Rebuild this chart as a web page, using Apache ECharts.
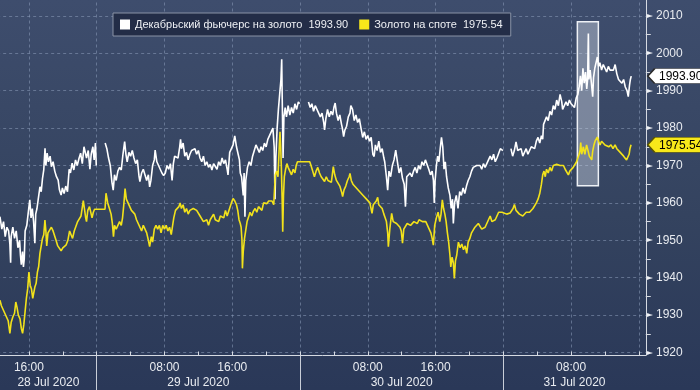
<!DOCTYPE html>
<html><head><meta charset="utf-8">
<script src="https://cdn.jsdelivr.net/npm/echarts@6/dist/echarts.min.js"></script>
<style>
html,body{margin:0;padding:0;background:#2e3c5c;}
#c{width:700px;height:390px;background:linear-gradient(180deg,#3e4d6d 0%,#34435f 55%,#2a3858 100%);}
</style>
</head><body><div id="c"></div>
<script>
// hours counted from 28 Jul 2020 00:00
const futuresName = 'Декабрьский фьючерс на золото';
const spotName = 'Золото на споте';

const futures = [
[12.58,1956.3],[12.8,1953.0],[13.0,1955.0],[13.2,1951.0],[13.4,1953.5],[13.6,1952.5],[13.75,1949.0],[13.84,1944.0],[13.9,1951.0],[14.1,1953.5],[14.3,1950.5],[14.5,1952.5],[14.7,1948.0],[14.9,1950.0],[15.0,1946.0],[15.1,1943.5],[15.25,1947.0],[15.35,1942.9],[15.45,1945.0],[15.55,1952.5],[15.75,1954.0],[15.9,1957.0],[16.1,1960.8],[16.25,1956.0],[16.4,1958.5],[16.55,1955.0],[16.7,1949.2],[16.8,1957.0],[16.95,1958.5],[17.1,1961.0],[17.3,1964.3],[17.45,1963.0],[17.6,1966.5],[17.75,1968.8],[17.9,1974.6],[18.0,1970.0],[18.15,1973.3],[18.3,1971.0],[18.5,1972.5],[18.65,1969.7],[18.85,1971.0],[19.05,1968.5],[19.25,1967.0],[19.45,1966.1],[19.6,1963.5],[19.8,1962.1],[19.95,1964.0],[20.15,1962.5],[20.35,1964.5],[20.55,1963.0],[20.75,1969.0],[20.9,1968.0],[21.1,1970.6],[21.3,1968.8],[21.5,1971.5],[21.7,1970.0],[21.9,1971.8],[22.1,1973.3],[22.3,1970.5],[22.5,1975.0],[22.65,1975.5],[22.8,1972.0],[23.0,1974.0],[23.2,1969.0],[23.35,1973.0],[23.55,1975.0],[23.7,1971.5],[23.85,1976.0],[23.95,1970.0],
[24.5,null],
[25.0,1976.0],[25.2,1974.5],[25.4,1972.0],[25.6,1970.0],[25.8,1965.5],[25.95,1963.4],[26.1,1967.5],[26.3,1966.0],[26.5,1968.5],[26.7,1969.5],[26.9,1968.8],[27.1,1973.0],[27.3,1976.4],[27.45,1973.0],[27.6,1971.0],[27.8,1973.5],[28.0,1972.5],[28.2,1974.0],[28.4,1972.0],[28.6,1970.5],[28.8,1971.5],[29.0,1967.0],[29.1,1965.7],[29.3,1968.0],[29.5,1969.0],[29.7,1968.5],[29.9,1966.0],[30.1,1967.5],[30.25,1964.3],[30.4,1966.0],[30.6,1970.0],[30.8,1971.5],[30.9,1974.1],[31.1,1971.0],[31.3,1970.0],[31.5,1969.5],[31.7,1968.0],[31.9,1967.3],[32.1,1968.0],[32.3,1970.0],[32.5,1969.0],[32.7,1970.5],[32.9,1966.0],[33.05,1970.5],[33.2,1972.5],[33.4,1973.0],[33.6,1972.0],[33.8,1975.0],[33.9,1977.0],[34.0,1974.5],[34.2,1976.0],[34.4,1972.5],[34.6,1973.5],[34.8,1971.5],[35.0,1973.0],[35.2,1974.0],[35.4,1973.5],[35.6,1974.5],[35.8,1973.0],[36.0,1974.0],[36.2,1972.0],[36.4,1971.0],[36.6,1972.5],[36.8,1970.0],[37.0,1971.0],[37.2,1969.5],[37.4,1970.3],[37.6,1968.8],[37.8,1970.5],
[38.0,1970.0],[38.2,1969.0],[38.4,1971.0],[38.6,1970.0],[38.8,1972.0],[39.0,1970.5],[39.2,1971.5],[39.4,1969.0],[39.5,1967.5],[39.7,1973.5],[39.9,1973.0],[40.1,1975.5],[40.3,1977.9],[40.5,1975.0],[40.7,1973.0],[40.85,1971.5],[40.95,1968.0],[41.1,1967.0],[41.3,1962.0],[41.4,1968.0],[41.5,1956.3],[41.6,1966.0],[41.8,1969.5],[42.0,1971.0],[42.2,1970.0],[42.4,1972.5],[42.6,1973.0],[42.8,1975.5],[43.0,1976.0],[43.2,1973.5],[43.4,1975.0],[43.6,1974.0],[43.8,1976.0],[44.0,1975.0],[44.2,1977.0],[44.4,1977.5],[44.6,1979.0],[44.8,1980.0],[44.95,1975.0],[45.05,1961.0],[45.15,1972.0],[45.3,1980.0],[45.45,1985.0],[45.6,1989.0],[45.75,1993.0],[45.84,1998.4],[45.9,1988.0],[46.0,1972.0],[46.1,1983.0],[46.25,1985.5],[46.4,1983.0],[46.6,1986.0],[46.8,1983.5],[47.0,1985.5],[47.2,1984.0],[47.4,1986.5],[47.6,1985.0],[47.8,1987.0],[47.95,1986.5],
[48.5,null],
[49.0,1987.0],[49.2,1985.5],[49.4,1986.5],[49.6,1984.5],[49.8,1986.0],[50.0,1985.0],[50.2,1984.5],[50.4,1983.0],[50.6,1984.0],[50.8,1981.5],[50.9,1979.5],[51.05,1982.5],[51.25,1985.0],[51.45,1983.0],[51.65,1984.5],[51.85,1983.5],[52.0,1985.5],[52.15,1986.7],[52.3,1984.0],[52.5,1982.0],[52.7,1983.5],[52.9,1981.0],[53.0,1980.0],[53.15,1977.7],[53.3,1979.5],[53.5,1980.5],[53.7,1983.0],[53.9,1984.0],[54.0,1986.0],[54.2,1985.0],[54.4,1982.0],[54.6,1983.5],[54.8,1981.5],[55.0,1982.5],[55.2,1980.0],[55.4,1977.5],[55.6,1979.0],[55.8,1977.0],[56.0,1978.0],[56.2,1976.5],[56.4,1977.5],[56.6,1973.0],[56.75,1972.4],[56.9,1975.5],[57.1,1974.0],[57.3,1976.5],[57.5,1973.5],[57.7,1974.5],[57.9,1972.0],[58.0,1971.0],[58.2,1967.0],[58.35,1963.4],[58.5,1968.5],[58.7,1967.0],[58.9,1970.0],[59.1,1971.5],[59.3,1974.1],[59.5,1971.0],[59.7,1968.0],[59.9,1969.5],[60.1,1966.5],[60.3,1965.0],[60.45,1959.0],[60.6,1967.0],[60.8,1966.5],[61.0,1968.0],[61.2,1967.0],[61.4,1968.5],[61.6,1969.5],[61.8,1968.0],[62.0,1970.0],[62.2,1969.0],[62.4,1971.0],[62.6,1970.0],[62.8,1971.5],
[63.0,1971.0],[63.2,1969.0],[63.4,1967.5],[63.6,1968.5],[63.75,1966.0],[63.85,1960.0],[63.95,1966.0],[64.1,1970.0],[64.25,1972.5],[64.4,1971.0],[64.55,1974.5],[64.7,1977.5],[64.85,1975.0],[65.0,1969.0],[65.15,1971.0],[65.3,1967.0],[65.5,1964.0],[65.7,1962.0],[65.85,1958.5],[66.0,1961.0],[66.1,1954.5],[66.25,1960.0],[66.45,1962.0],[66.65,1958.5],[66.85,1963.0],[67.05,1962.0],[67.25,1964.0],[67.45,1962.5],[67.65,1964.5],[67.85,1966.0],[68.05,1967.0],[68.25,1968.5],[68.45,1969.5],[68.65,1969.0],[68.85,1970.0],[69.05,1969.5],[69.25,1970.0],[69.45,1969.0],[69.65,1970.5],[69.85,1969.5],[70.05,1970.5],[70.25,1971.0],[70.45,1972.5],[70.65,1971.5],[70.85,1973.0],[71.05,1971.0],[71.25,1972.0],[71.45,1971.5],[71.65,1974.5],[71.85,1975.0],[71.95,1974.0],
[72.4,null],
[72.9,1974.5],[73.1,1972.5],[73.3,1974.0],[73.5,1976.3],[73.7,1974.0],[73.9,1973.5],[74.1,1974.5],[74.3,1972.5],[74.5,1973.5],[74.7,1974.5],[74.9,1973.0],[75.1,1974.0],
[75.3,1975.0],[75.5,1975.5],[75.7,1974.5],[75.9,1976.5],[76.1,1977.5],[76.3,1976.0],[76.5,1978.0],[76.65,1977.0],[76.75,1981.0],[76.9,1980.5],[77.1,1983.0],[77.3,1982.0],[77.5,1984.5],[77.7,1983.5],[77.9,1986.0],[78.1,1985.0],[78.3,1987.5],[78.5,1986.0],[78.7,1989.0],[78.9,1987.0],[79.0,1985.0],[79.2,1984.5],[79.4,1987.0],[79.6,1986.0],[79.8,1987.5],[80.0,1986.5],[80.2,1987.0],[80.4,1985.5],[80.6,1988.0],[80.8,1989.0],[80.95,1991.0],[81.1,1994.0],[81.25,1990.0],[81.4,1996.0],[81.55,1992.0],[81.7,1995.0],[81.85,1990.5],[81.95,1993.0],[82.04,2005.3],[82.1,1993.0],[82.25,1995.5],[82.4,1992.0],[82.55,1988.4],[82.65,1993.5],[82.8,1996.0],[82.95,1997.5],[83.1,1999.0],[83.25,1996.5],[83.4,1997.5],[83.6,1995.5],[83.8,1997.0],[84.0,1996.0],[84.2,1995.0],[84.4,1996.5],[84.6,1995.5],[84.8,1996.0],[85.0,1995.5],[85.2,1997.0],[85.4,1994.5],[85.6,1993.0],[85.8,1993.5],[86.0,1992.0],[86.2,1993.0],[86.4,1991.0],[86.6,1990.0],[86.75,1988.4],[86.9,1991.5],[87.0,1993.0],[87.1,1993.90]
];

const spot = [
[12.58,1934.0],[12.75,1932.5],[12.95,1931.5],[13.15,1931.0],[13.35,1929.5],[13.55,1928.5],[13.75,1925.1],[13.9,1928.0],[14.1,1929.5],[14.3,1930.5],[14.45,1933.5],[14.6,1932.0],[14.75,1930.0],[14.95,1929.0],[15.1,1926.5],[15.25,1925.1],[15.4,1927.5],[15.55,1931.0],[15.7,1934.5],[15.85,1937.0],[16.0,1941.5],[16.15,1938.0],[16.3,1937.0],[16.45,1934.5],[16.55,1934.0],[16.7,1937.5],[16.85,1938.5],[17.0,1941.5],[17.15,1943.0],[17.3,1946.5],[17.45,1948.5],[17.6,1950.5],[17.75,1951.5],[17.89,1955.4],[18.0,1952.5],[18.1,1948.5],[18.25,1952.0],[18.45,1952.5],[18.65,1953.5],[18.85,1952.5],[19.05,1953.0],[19.2,1950.0],[19.4,1948.5],[19.6,1948.0],[19.8,1947.2],[20.0,1948.0],[20.2,1947.5],[20.4,1948.8],[20.6,1950.0],[20.8,1952.5],[21.0,1953.0],[21.15,1950.5],[21.35,1952.5],[21.55,1953.0],[21.75,1955.0],[21.95,1955.5],[22.15,1956.5],[22.3,1957.0],[22.42,1960.6],[22.55,1958.5],[22.7,1956.0],[22.8,1955.0],[22.95,1958.0],[23.15,1959.0],[23.3,1959.5],[23.45,1956.0],[23.6,1957.5],[23.75,1958.3],[24.98,1958.3],[25.1,1962.6],[25.3,1960.0],[25.5,1958.5],
[25.7,1957.0],[25.85,1954.5],[25.98,1951.0],[26.1,1954.0],[26.3,1953.0],[26.5,1953.5],[26.7,1955.0],[26.9,1954.0],[27.05,1956.0],[27.2,1959.5],[27.35,1963.8],[27.5,1961.0],[27.7,1960.0],[27.9,1959.5],[28.1,1958.0],[28.3,1958.5],[28.5,1957.0],[28.7,1955.5],[28.9,1956.0],[29.1,1953.5],[29.3,1952.5],[29.5,1954.0],[29.7,1953.5],[29.9,1952.0],[30.1,1950.0],[30.25,1948.3],[30.45,1951.0],[30.6,1949.5],[30.8,1953.0],[31.0,1954.0],[31.2,1953.0],[31.4,1954.0],[31.6,1952.0],[31.8,1954.0],[32.0,1953.0],[32.2,1954.0],[32.4,1952.5],[32.6,1953.5],[32.8,1951.5],[32.95,1951.0],[33.1,1956.0],[33.3,1958.0],[33.5,1957.5],[33.7,1959.0],[33.85,1960.0],[34.0,1958.5],[34.2,1959.5],[34.4,1957.5],[34.6,1958.5],[34.8,1957.0],[35.0,1958.0],[35.2,1957.5],[35.4,1958.5],[35.6,1959.0],[35.8,1958.0],[36.0,1957.5],[36.2,1956.5],[36.4,1957.0],[36.6,1955.0],[36.8,1954.5],[37.0,1955.5],[37.2,1954.0],[37.4,1955.5],[37.6,1956.0],[37.8,1957.0],
[38.0,1955.5],[38.2,1956.0],[38.4,1955.0],[38.6,1956.5],[38.8,1957.0],[39.0,1956.0],[39.2,1958.0],[39.4,1956.5],[39.6,1956.0],[39.75,1959.0],[39.9,1960.0],[40.1,1961.2],[40.3,1960.5],[40.5,1959.5],[40.65,1958.0],[40.8,1955.5],[40.95,1954.5],[41.05,1953.5],[41.15,1950.0],[41.2,1942.5],[41.3,1947.0],[41.45,1950.5],[41.6,1951.0],[41.75,1955.0],[41.9,1956.0],[42.1,1957.5],[42.3,1956.5],[42.5,1957.8],[42.7,1958.5],[42.9,1957.5],[43.1,1959.0],[43.3,1959.5],[43.5,1958.0],[43.7,1960.0],[43.9,1959.5],[44.1,1959.8],[44.3,1960.5],[44.5,1961.0],[44.7,1960.5],[44.9,1959.5],[44.98,1959.0],[45.08,1967.5],[45.25,1968.5],[45.4,1967.0],[45.55,1975.0],[45.64,1979.0],[45.72,1975.0],[45.8,1969.5],[45.9,1960.0],[45.96,1952.3],[46.05,1962.0],[46.15,1967.0],[46.3,1969.0],[46.45,1970.5],[46.6,1969.5],[46.8,1968.5],[47.0,1967.5],[47.2,1969.0],[47.4,1968.0],[47.55,1970.0],[47.7,1971.0],[49.15,1971.0],[49.3,1970.0],[49.5,1968.5],[49.7,1967.0],[49.9,1968.5],[50.1,1969.5],[50.3,1968.0],
[50.5,1967.0],[50.7,1966.5],[50.9,1965.7],[51.1,1967.0],[51.3,1966.0],[51.5,1966.5],[51.7,1965.5],[51.93,1969.7],[52.1,1967.5],[52.3,1966.0],[52.5,1965.5],[52.7,1964.5],[52.9,1963.0],[53.03,1961.7],[53.2,1963.5],[53.4,1964.5],[53.6,1966.0],[53.8,1967.0],[53.9,1967.9],[54.05,1966.0],[54.25,1965.0],[54.45,1964.5],[54.65,1964.0],[54.85,1963.5],[55.05,1963.0],[55.25,1962.5],[55.45,1962.0],[55.65,1961.5],[55.85,1961.0],[56.05,1960.5],[56.25,1960.0],[56.4,1959.5],[56.5,1957.2],[56.65,1959.5],[56.85,1959.0],[57.0,1960.5],[57.17,1961.5],[57.3,1959.5],[57.5,1959.0],[57.7,1958.5],[57.9,1957.0],[58.05,1956.0],[58.2,1955.0],[58.35,1952.0],[58.43,1948.3],[58.6,1953.0],[58.82,1957.2],[59.0,1955.0],[59.2,1955.5],[59.4,1954.5],[59.6,1955.0],[59.8,1953.5],[59.95,1952.5],[60.1,1949.2],[60.25,1953.0],[60.45,1953.3],[60.65,1954.5],[60.85,1955.0],[61.05,1954.0],[61.25,1953.5],[61.45,1955.0],[61.65,1955.5],[61.85,1954.5],[62.05,1955.5],[62.25,1956.0],[62.45,1955.0],[62.65,1955.5],
[62.85,1955.0],[63.05,1954.5],[63.25,1953.0],[63.45,1952.0],[63.6,1950.5],[63.74,1948.7],[63.9,1954.0],[64.1,1956.0],[64.3,1957.5],[64.5,1955.0],[64.65,1957.0],[64.8,1960.8],[64.95,1958.5],[65.1,1957.0],[65.25,1955.0],[65.4,1952.0],[65.55,1949.5],[65.7,1946.0],[65.8,1942.9],[65.95,1945.5],[66.1,1944.0],[66.22,1939.8],[66.35,1944.5],[66.5,1946.0],[66.7,1949.5],[66.9,1948.0],[67.1,1949.0],[67.3,1947.5],[67.5,1948.5],[67.68,1946.5],[67.85,1949.5],[68.05,1950.5],[68.25,1952.0],[68.45,1952.5],[68.65,1953.5],[68.85,1954.0],[69.05,1954.5],[69.25,1954.0],[69.45,1953.0],[69.65,1953.5],[69.85,1953.5],[70.05,1954.0],[70.25,1955.5],[70.45,1956.5],[70.65,1955.0],[70.85,1954.5],[71.05,1955.5],[71.25,1956.5],[71.45,1957.5],[71.65,1957.0],[71.85,1957.5],[72.05,1957.8],[72.4,1957.0],[72.8,1957.3],[73.0,1957.0],[73.15,1958.5],[73.31,1959.6],[73.5,1958.0],[73.7,1957.5],[73.9,1957.0],[74.1,1957.5],[74.3,1956.5],[74.5,1957.0],[74.7,1957.5],[74.9,1957.0],
[75.1,1957.5],[75.3,1958.0],[75.5,1958.5],[75.7,1959.0],[75.9,1960.0],[76.1,1961.0],[76.3,1962.5],[76.5,1965.0],[76.65,1967.5],[76.8,1968.5],[76.95,1967.0],[77.1,1969.0],[77.3,1968.0],[77.5,1969.5],[77.7,1968.5],[77.9,1970.0],[78.1,1969.5],[78.3,1970.3],[78.5,1970.8],[78.7,1970.0],[78.9,1969.5],[79.1,1970.0],[79.3,1969.0],[79.5,1968.5],[79.68,1967.5],[79.85,1968.5],[80.05,1969.0],[80.25,1969.5],[80.45,1970.0],[80.65,1971.0],[80.8,1971.5],[80.95,1973.0],[81.06,1974.0],[81.14,1976.1],[81.25,1973.0],[81.34,1972.5],[81.45,1975.0],[81.53,1975.5],[81.63,1973.0],[81.73,1972.8],[81.83,1975.5],[81.93,1976.0],[82.05,1973.5],[82.15,1972.5],[82.3,1973.0],[82.44,1971.5],[82.55,1973.8],[82.7,1975.5],[82.83,1976.5],[82.95,1977.0],[83.1,1977.6],[83.25,1976.5],[83.42,1975.5],[83.6,1976.5],[83.81,1977.0],[84.0,1975.5],[84.21,1976.0],[84.45,1975.0],[84.71,1975.5],[84.95,1974.5],[85.19,1975.5],[85.4,1974.5],[85.58,1974.0],[85.8,1973.5],[85.98,1973.5],[86.2,1972.5],[86.37,1972.0],[86.55,1971.5],[86.69,1971.0],[86.85,1973.0],[86.95,1974.5],[87.08,1975.54]
];

const xMin = 8, xMax = 88.82;
const yMin = 1920, yMax = 2020, yStep = 10;
const timeLabelHours = [16, 32, 40, 56, 64, 80];
const dayBoundaryHours = [24, 48, 72];
const dayLabelHours = [18.3, 36, 60, 80.4];
const dayLabels = ['28 Jul 2020', '29 Jul 2020', '30 Jul 2020', '31 Jul 2020'];
const highlightHours = [80.74, 83.22];
const highlightValues = [1964.6, 2008.45];

const lastFut = futures[futures.length - 1][1];
const lastSpot = spot[spot.length - 1][1];
const valueText = {};
valueText[futuresName] = lastFut.toFixed(2);
valueText[spotName] = lastSpot.toFixed(2);

const FONT = '"Liberation Sans", Arial, sans-serif';
const gridColor = 'rgba(140,156,186,0.55)';
const tagPath = 'path://M0,7.5 L7,0 L60,0 L60,15 L7,15 Z';

function tag(value, fill, border) {
  return {
    symbol: tagPath,
    symbolSize: [60, 15],
    symbolOffset: [32, 0],
    silent: true,
    itemStyle: { color: fill, borderColor: border, borderWidth: 1 },
    label: { show: true, position: 'inside', offset: [3, 1], color: '#000', fontSize: 12, fontFamily: FONT,
      formatter: function () { return value.toFixed(2); } },
    data: [{ coord: [xMax - 0.01, value] }]
  };
}

const chart = echarts.init(document.getElementById('c'), null, { renderer: 'canvas' });
chart.setOption({
  backgroundColor: 'transparent',
  animation: false,
  grid: { left: -38.84, right: 54.2, top: -21.5, bottom: 37.5, containLabel: false, outerBoundsMode: 'none' },
  legend: {
    left: 113, top: 13,
    padding: [6, 8, 6, 7],
    itemGap: 11, itemWidth: 10, itemHeight: 10,
    icon: 'rect',
    selectedMode: false,
    backgroundColor: '#232d47',
    borderColor: '#8a93a6', borderWidth: 1,
    textStyle: { color: '#eef0f4', fontSize: 11, fontFamily: FONT },
    data: [futuresName, spotName],
    formatter: function (name) { return name + '  ' + valueText[name]; }
  },
  xAxis: [{
    type: 'value', min: xMin, max: xMax, interval: 8, position: 'bottom', offset: 3,
    axisLine: { show: true, lineStyle: { color: '#d6dae2', width: 1 } },
    axisTick: { show: true, inside: true, length: 4, lineStyle: { color: '#d6dae2' } },
    minorTick: { show: true, splitNumber: 2, length: 4, lineStyle: { color: '#d6dae2' } },
    axisLabel: { show: true, margin: 6, color: '#e8ebf0', fontSize: 12, fontFamily: FONT,
      formatter: function (v) {
        if (timeLabelHours.indexOf(v) < 0) return '';
        const h = v % 24;
        return (h < 10 ? '0' + h : '' + h) + ':00';
      } },
    splitLine: { show: true, lineStyle: { color: gridColor, type: [3, 3], width: 1 } },
    minorSplitLine: { show: false }
  }, {
    type: 'value', min: xMin, max: xMax, position: 'bottom', offset: 3,
    axisLine: { show: false },
    axisTick: { show: true, inside: false, length: 36, customValues: dayBoundaryHours, lineStyle: { color: '#c9ced8', width: 1 } },
    axisLabel: { show: true, margin: 21, color: '#e8ebf0', fontSize: 12, fontFamily: FONT,
      customValues: dayLabelHours,
      formatter: function (v) { const i = dayLabelHours.indexOf(v); return i >= 0 ? dayLabels[i] : ''; } },
    splitLine: { show: false }
  }],
  yAxis: {
    type: 'value', position: 'right', min: yMin, max: yMax, interval: yStep,
    axisLine: { show: true, lineStyle: { color: '#d6dae2', width: 1 } },
    axisTick: { show: false },
    minorTick: { show: true, splitNumber: 2, length: 5, lineStyle: { color: '#d6dae2' } },
    axisLabel: { show: true, margin: 1, color: '#e8ebf0', fontFamily: FONT,
      formatter: function (v) { return '{a|►}{b|' + v + '}'; },
      rich: { a: { fontSize: 8, color: '#eef0f4', padding: [0, 3, 0, 0], fontFamily: '"DejaVu Sans", sans-serif' },
              b: { fontSize: 12, color: '#e8ebf0', fontFamily: FONT } } },
    splitLine: { show: true, lineStyle: { color: gridColor, type: [3, 3], width: 1 } }
  },
  series: [{
    name: futuresName, type: 'line', data: futures, symbol: 'none', showSymbol: false, clip: false,
    connectNulls: false, z: 3,
    lineStyle: { color: '#ffffff', width: 1.6 }, itemStyle: { color: '#ffffff' },
    markPoint: tag(lastFut, '#ffffff', '#2a2a2a')
  }, {
    name: spotName, type: 'line', data: spot, symbol: 'none', showSymbol: false, clip: false, z: 3,
    lineStyle: { color: '#f2e21b', width: 1.6 }, itemStyle: { color: '#f7e81a' },
    markPoint: tag(lastSpot, '#f7e81a', '#5a5500')
  }, {
    name: 'highlight', type: 'line', data: [], z: 6, silent: true,
    markArea: {
      silent: true,
      itemStyle: { color: 'rgba(215,221,233,0.42)', borderColor: '#eef1f6', borderWidth: 1.5 },
      data: [[{ xAxis: highlightHours[0], yAxis: highlightValues[1] }, { xAxis: highlightHours[1], yAxis: highlightValues[0] }]]
    }
  }]
});
</script>
</body></html>
